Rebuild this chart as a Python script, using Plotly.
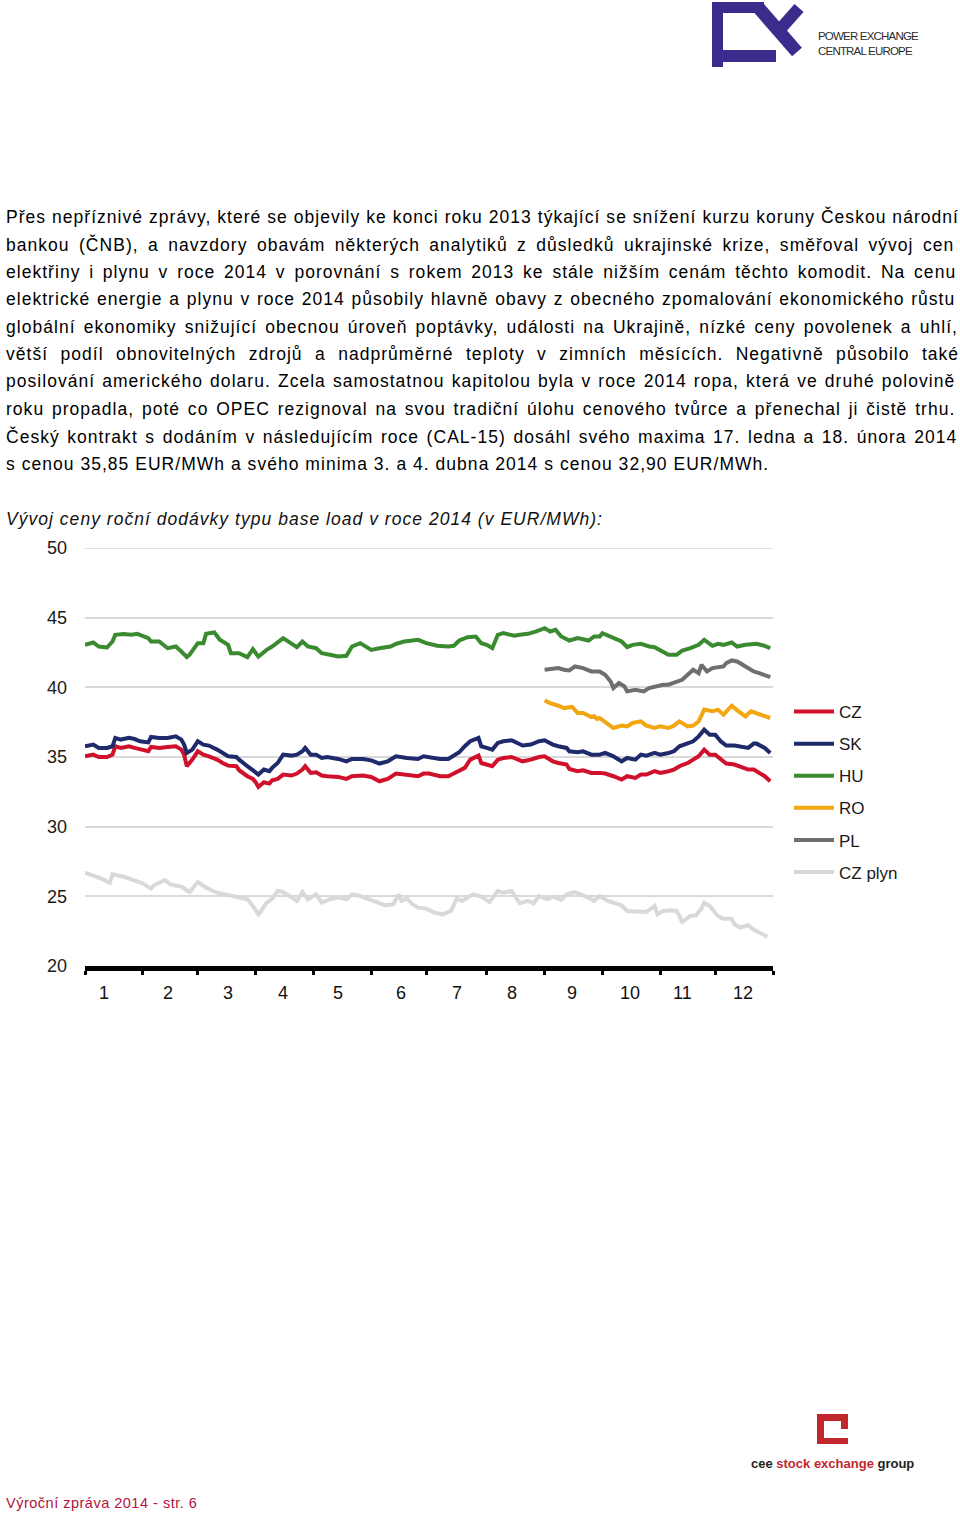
import unicodedata
import plotly.graph_objects as go

# ---------------- data (trading-day index within 2014, EUR/MWh) ----------------
HU_DAY = [0,3,5,8,10,11,14,17,19,23,24,27,30,33,35,37,38,41,43,44,47,49,52,53,56,59,61,63,66,68,
          72,75,77,79,81,84,86,89,92,95,97,100,104,107,111,113,116,121,123,124,128,132,134,136,139,142,144,146,148,150,
          152,156,158,161,164,167,169,171,173,176,179,183,185,187,188,192,195,197,199,202,205,207,210,212,215,217,220,223,225,228,
          230,232,235,237,240,243,244,247,249]
HU = [43.05,43.22,42.93,42.86,43.29,43.77,43.82,43.77,43.84,43.53,43.29,43.29,42.81,42.93,42.57,42.17,42.34,43.17,43.17,43.84,
      43.94,43.41,43.05,42.45,42.45,42.17,42.74,42.2,42.69,42.93,43.53,43.17,42.88,43.29,42.93,42.81,42.45,42.34,42.22,42.26,
      42.93,43.17,42.69,42.81,42.93,43.12,43.29,43.41,43.22,43.17,42.98,42.93,42.98,43.36,43.6,43.65,43.17,43.05,42.81,43.77,
      43.89,43.7,43.77,43.84,44.01,44.25,44.01,44.13,43.65,43.36,43.53,43.36,43.65,43.65,43.89,43.53,43.29,42.88,43.05,43.12,
      42.93,42.88,42.57,42.34,42.34,42.64,42.81,43.05,43.41,42.98,43.12,43.05,43.22,42.93,43.05,43.05,43.12,42.98,42.81]

CZSK_DAY = [0,3,5,8,10,11,13,16,18,20,23,24,27,30,33,35,36,37,39,41,43,45,48,50,52,55,56,59,61,62,
            63,65,67,68,70,72,75,77,79,80,82,84,86,88,92,95,97,101,104,107,110,113,117,121,123,125,129,132,134,136,
            138,140,143,144,146,148,150,152,155,157,159,162,165,167,170,172,175,176,179,181,184,187,189,192,195,197,200,202,204,207,
            209,212,214,216,219,221,223,225,227,229,231,233,236,238,241,243,244,247,249]
SK = [35.77,35.89,35.65,35.65,35.77,36.37,36.25,36.37,36.29,36.13,36.05,36.44,36.37,36.37,36.48,36.25,35.89,35.29,35.53,36.13,
      35.89,35.82,35.53,35.29,35.05,35.0,34.81,34.34,34.1,33.9,33.74,34.1,33.98,34.22,34.57,35.17,35.1,35.17,35.41,35.65,
      35.17,35.17,34.93,35.0,34.86,34.69,34.86,34.86,34.76,34.53,34.69,35.05,34.93,34.86,35.05,35.0,34.86,34.86,35.1,35.34,
      35.77,36.13,36.37,35.77,35.65,35.53,36.01,36.13,36.2,36.01,35.82,35.89,36.13,36.2,35.89,35.77,35.65,35.41,35.34,35.41,
      35.17,35.17,35.29,35.05,34.69,34.93,34.81,35.17,35.1,35.29,35.17,35.29,35.41,35.77,36.01,36.13,36.48,36.96,36.6,36.6,
      36.13,35.82,35.82,35.77,35.65,35.96,35.96,35.65,35.29]
CZ = [35.05,35.17,35.0,35.0,35.17,35.77,35.65,35.77,35.65,35.53,35.41,35.72,35.65,35.72,35.77,35.53,35.17,34.34,34.81,35.41,
      35.17,35.05,34.81,34.57,34.38,34.34,34.05,33.62,33.43,33.2,32.85,33.19,33.09,33.33,33.43,33.74,33.67,33.81,34.1,34.34,
      33.86,33.9,33.67,33.62,33.57,33.43,33.62,33.67,33.57,33.26,33.43,33.81,33.74,33.62,33.81,33.81,33.62,33.62,33.81,33.98,
      34.22,34.81,35.1,34.57,34.46,34.34,34.81,34.93,35.0,34.81,34.69,34.81,35.0,35.05,34.69,34.57,34.46,34.14,33.98,34.05,
      33.86,33.86,33.81,33.62,33.38,33.62,33.5,33.74,33.74,33.98,33.86,33.98,34.1,34.34,34.57,34.81,35.05,35.53,35.17,35.17,
      34.81,34.53,34.46,34.34,34.1,34.1,33.98,33.62,33.26]

RO_DAY = [167,169,172,174,177,179,181,184,185,186,187,190,192,195,197,199,202,204,207,209,
          212,214,216,219,221,223,225,228,230,232,235,237,240,242,244,247,249]
RO = [39.06,38.87,38.68,38.51,38.59,38.16,38.16,37.87,37.92,37.73,37.8,37.32,37.08,37.25,37.2,37.44,37.56,37.25,37.08,37.2,
      37.08,37.25,37.56,37.2,37.25,37.56,38.4,38.28,38.4,38.04,38.68,38.35,37.92,38.28,38.16,37.97,37.8]

PL_DAY = [167,169,172,174,176,178,181,184,187,189,191,192,194,196,197,200,203,205,207,210,
          212,215,217,219,221,223,224,226,228,232,233,235,237,240,243,245,249]
PL = [41.26,41.31,41.38,41.26,41.21,41.5,41.38,41.14,41.14,40.9,40.42,39.95,40.31,40.07,39.71,39.83,39.71,39.95,40.07,40.19,
      40.19,40.36,40.54,40.9,41.26,41.02,41.62,41.14,41.38,41.5,41.74,41.93,41.86,41.5,41.14,41.02,40.74]

GAS_DAY = [0,3,6,9,10,14,17,21,24,25,29,31,35,38,41,44,48,51,55,59,61,63,64,66,68,70,72,75,77,79,
           81,84,86,89,92,95,97,100,103,106,109,112,114,115,117,119,121,124,127,130,133,135,137,141,144,147,150,152,155,156,
           158,161,163,165,168,170,173,175,178,181,183,185,187,190,192,195,197,199,202,204,207,208,210,213,215,217,220,222,224,225,
           227,230,232,235,236,238,241,243,245,248]
GAS = [26.70,26.50,26.27,25.98,26.58,26.41,26.22,25.93,25.55,25.79,26.17,25.86,25.69,25.31,26.03,25.62,25.26,25.14,25.02,24.79,
       24.31,23.71,23.95,24.55,24.83,25.38,25.31,24.91,24.67,25.31,24.79,25.14,24.55,24.79,24.91,24.79,25.14,25.02,24.83,24.59,
       24.36,24.43,25.14,24.67,24.83,24.43,24.19,24.12,23.83,23.71,23.95,24.83,24.67,25.14,24.98,24.59,25.38,25.26,25.38,25.07,
       24.5,24.67,24.5,25.02,24.79,24.98,24.74,25.14,25.31,25.07,24.91,24.67,25.02,24.67,24.55,24.36,23.95,23.95,23.95,23.88,
       24.31,23.71,23.95,24.0,23.95,23.16,23.59,23.64,24.12,24.55,24.31,23.59,23.4,23.4,22.99,22.76,22.92,22.59,22.4,22.11]

MONTH_BOUNDS = [0, 21, 41, 62, 83, 104, 124, 146, 167, 188, 209, 229, 250]
MONTH_LABEL_POS = [7, 30, 52, 72, 92, 115, 135, 155, 177, 198, 217, 239]
MONTH_LABELS = [str(m) for m in range(1, 13)]
Y_TICKS = [20, 25, 30, 35, 40, 45, 50]

SERIES = [
    ("CZ", CZSK_DAY, CZ, "#d0112b"),
    ("SK", CZSK_DAY, SK, "#1e2a6c"),
    ("HU", HU_DAY, HU, "#3a8a30"),
    ("RO", RO_DAY, RO, "#f2a712"),
    ("PL", PL_DAY, PL, "#6f6f6f"),
    ("CZ plyn", GAS_DAY, GAS, "#d9d9d9"),
]

PARAGRAPH = [
    "Přes nepříznivé zprávy, které se objevily ke konci roku 2013 týkající se snížení kurzu koruny Českou národní",
    "bankou (ČNB), a navzdory obavám některých analytiků z důsledků ukrajinské krize, směřoval vývoj cen",
    "elektřiny i plynu v roce 2014 v porovnání s rokem 2013 ke stále nižším cenám těchto komodit. Na cenu",
    "elektrické energie a plynu v roce 2014 působily hlavně obavy z obecného zpomalování ekonomického růstu",
    "globální ekonomiky snižující obecnou úroveň poptávky, události na Ukrajině, nízké ceny povolenek a uhlí,",
    "větší podíl obnovitelných zdrojů a nadprůměrné teploty v zimních měsících. Negativně působilo také",
    "posilování amerického dolaru. Zcela samostatnou kapitolou byla v roce 2014 ropa, která ve druhé polovině",
    "roku propadla, poté co OPEC rezignoval na svou tradiční úlohu cenového tvůrce a přenechal ji čistě trhu.",
    "Český kontrakt s dodáním v následujícím roce (CAL-15) dosáhl svého maxima 17. ledna a 18. února 2014",
    "s cenou 35,85 EUR/MWh a svého minima 3. a 4. dubna 2014 s cenou 32,90 EUR/MWh.",
]
HEADING = "Vývoj ceny roční dodávky typu base load v roce 2014 (v EUR/MWh):"
FOOTER = "Výroční zpráva 2014 - str. 6"

# ---------------- layout helpers ----------------
W, H = 960, 1514
PX0, PX1 = 85, 773      # plot area left/right (px)
PY0, PY1 = 548, 966     # plot area top/bottom (px)


def px(x):
    return (x - PX0) / (PX1 - PX0)


def py(y):
    return (PY1 - y) / (PY1 - PY0)


# Arial / Liberation Sans advance widths (1/1000 em)
AW = {' ': 278, '!': 278, '(': 333, ')': 333, ',': 278, '-': 333, '.': 278, '/': 278, ':': 278}
for d in "0123456789":
    AW[d] = 556
AW.update(dict(zip("ABCDEFGHIJKLMNOPQRSTUVWXYZ",
                   [667, 667, 722, 722, 667, 611, 778, 722, 278, 500, 667, 556, 833, 722, 778, 667, 778, 722, 667,
                    611, 722, 667, 944, 667, 667, 611])))
AW.update(dict(zip("abcdefghijklmnopqrstuvwxyz",
                   [556, 556, 500, 556, 556, 278, 556, 556, 222, 222, 500, 222, 833, 556, 556, 556, 556, 333, 500,
                    278, 556, 500, 722, 500, 500, 500])))


def text_w(s, size):
    tot = 0
    for c in s:
        b = unicodedata.normalize("NFD", c)[0]
        tot += AW.get(b, 556)
    return tot * size / 1000.0


FS = 17.5
TEXT_LEFT, TEXT_RIGHT = 5, 953
LAST_RIGHT = 768
LS = (LAST_RIGHT - TEXT_LEFT - text_w(PARAGRAPH[-1], FS)) / len(PARAGRAPH[-1])
LINE_Y = [217, 244, 272, 299, 327, 354, 381, 409, 436, 464]

annotations = []
for i, line in enumerate(PARAGRAPH):
    nat = text_w(line, FS) + LS * len(line)
    nsp = line.count(" ")
    ws = 0.0
    if i < len(PARAGRAPH) - 1 and nsp:
        ws = (TEXT_RIGHT - TEXT_LEFT - nat) / nsp
    annotations.append(dict(
        x=px(TEXT_LEFT - 1), y=py(LINE_Y[i]), xref="paper", yref="paper",
        xanchor="left", yanchor="middle", showarrow=False,
        text=f'<span style="letter-spacing:{LS:.2f}px;word-spacing:{ws:.2f}px">{line}</span>',
        font=dict(family="Liberation Sans, Arial, sans-serif", size=FS, color="#000000")))

annotations.append(dict(
    x=px(TEXT_LEFT - 1), y=py(519), xref="paper", yref="paper", xanchor="left", yanchor="middle",
    showarrow=False, text=f'<i><span style="letter-spacing:{LS:.2f}px">{HEADING}</span></i>',
    font=dict(family="Liberation Sans, Arial, sans-serif", size=FS, color="#111111")))

annotations.append(dict(
    x=px(TEXT_LEFT - 1), y=py(1503), xref="paper", yref="paper", xanchor="left", yanchor="middle",
    showarrow=False, text=f'<span style="letter-spacing:0.5px">{FOOTER}</span>',
    font=dict(family="Liberation Sans, Arial, sans-serif", size=14.5, color="#b3123d")))

# month labels
for pos, lab in zip(MONTH_LABEL_POS, MONTH_LABELS):
    annotations.append(dict(
        x=pos, y=py(993), xref="x", yref="paper", xanchor="center", yanchor="middle", showarrow=False,
        text=lab, font=dict(family="Liberation Sans, Arial, sans-serif", size=18, color="#111111")))

# logo texts
annotations += [
    dict(x=px(816), y=py(36), xref="paper", yref="paper", xanchor="left", yanchor="middle", showarrow=False,
         text='<span style="letter-spacing:-0.8px">POWER EXCHANGE</span>',
         font=dict(family="Liberation Sans Narrow, Arial Narrow, Liberation Sans, sans-serif", size=11.5,
                   color="#2b2b2b")),
    dict(x=px(816), y=py(51), xref="paper", yref="paper", xanchor="left", yanchor="middle", showarrow=False,
         text='<span style="letter-spacing:-0.8px">CENTRAL EUROPE</span>',
         font=dict(family="Liberation Sans Narrow, Arial Narrow, Liberation Sans, sans-serif", size=11.5,
                   color="#2b2b2b")),
    dict(x=px(749), y=py(1463), xref="paper", yref="paper", xanchor="left", yanchor="middle", showarrow=False,
         text='<b>cee <span style="color:#c1272d">stock exchange</span> group</b>',
         font=dict(family="Liberation Sans, Arial, sans-serif", size=13, color="#222222")),
]

PURPLE = "#3c2a8c"
RED = "#c1272d"


def rect(x0, y0, x1, y1, color):
    return dict(type="rect", xref="paper", yref="paper", x0=px(x0), x1=px(x1), y0=py(y0), y1=py(y1),
                fillcolor=color, line=dict(width=0), layer="above")


def seg(x0, y0, x1, y1, color, w):
    return dict(type="line", xref="paper", yref="paper", x0=px(x0), x1=px(x1), y0=py(y0), y1=py(y1),
                line=dict(color=color, width=w), layer="above")


shapes = [
    # PX logo
    rect(712, 2, 723, 67, PURPLE),
    rect(712, 2, 764, 13, PURPLE),
    rect(723, 50, 776, 62, PURPLE),
    seg(757, 6, 797, 52, PURPLE, 13),
    seg(799, 8, 775, 35, PURPLE, 12),
    # cee stock exchange group logo
    rect(817, 1414, 848, 1421, RED),
    rect(817, 1414, 824, 1444, RED),
    rect(817, 1438, 848, 1444, RED),
    rect(841, 1414, 848, 1429, RED),
    # top gridline at 50
    dict(type="line", xref="paper", yref="y", x0=0, x1=1, y0=50, y1=50,
         line=dict(color="#d9d9d9", width=1.5), layer="below"),
]

fig = go.Figure()
for i, (name, xs, ys, col) in enumerate(SERIES):
    fig.add_trace(go.Scatter(x=xs, y=ys, name=name, mode="lines", legendgroup=f"g{i}",
                             line=dict(color=col, width=4)))

fig.update_layout(
    width=W, height=H,
    margin=dict(l=PX0, r=W - PX1, t=PY0, b=H - PY1),
    paper_bgcolor="white", plot_bgcolor="white",
    showlegend=True,
    legend=dict(x=px(789), y=py(694), xanchor="left", yanchor="top", tracegroupgap=7,
                font=dict(family="Liberation Sans, Arial, sans-serif", size=17, color="#1a1a1a"),
                itemwidth=40, bgcolor="rgba(0,0,0,0)"),
    annotations=annotations,
    shapes=shapes,
)
fig.update_xaxes(range=[0, 250], tickvals=MONTH_BOUNDS, showticklabels=False, ticks="outside", ticklen=4,
                 tickwidth=3, tickcolor="black", showline=True, linecolor="black", linewidth=5,
                 showgrid=False, zeroline=False, fixedrange=True)
fig.update_yaxes(range=[20, 50], tickvals=Y_TICKS, showgrid=True, gridcolor="#d9d9d9", gridwidth=1.5,
                 zeroline=False, showline=False, ticks="", ticklabelstandoff=17,
                 tickfont=dict(family="Liberation Sans, Arial, sans-serif", size=18, color="#1a1a1a"),
                 fixedrange=True)

fig.write_html("out.html", config={"displayModeBar": False},
               post_script="document.body.style.margin='0px';")
